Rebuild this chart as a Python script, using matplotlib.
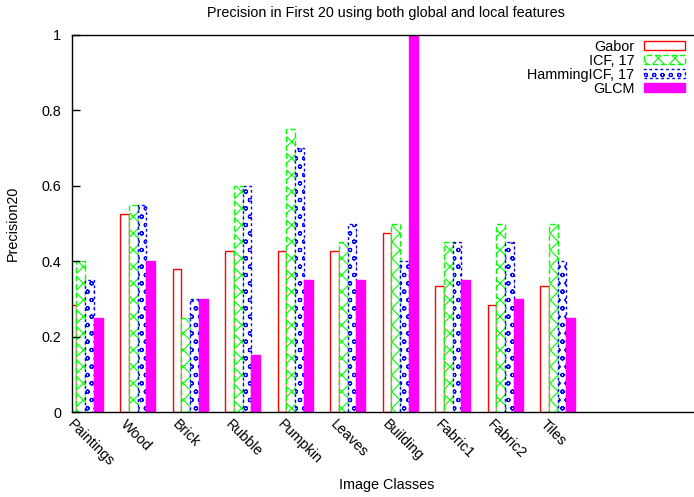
import numpy as np
import matplotlib
matplotlib.use("Agg")
import matplotlib.pyplot as plt
from matplotlib.ticker import FormatStrFormatter
from matplotlib.transforms import ScaledTranslation

plt.rcParams['font.family'] = ['Liberation Sans', 'DejaVu Sans']
plt.rcParams['hatch.linewidth'] = 0.8

categories = ["Paintings", "Wood", "Brick", "Rubble", "Pumpkin", "Leaves",
              "Building", "Fabric1", "Fabric2", "Tiles"]
series_names = ["Gabor", "ICF, 17", "HammingICF, 17", "GLCM"]
gabor = [0.285, 0.524, 0.38, 0.428, 0.428, 0.428, 0.476, 0.333, 0.285, 0.333]
icf17 = [0.40, 0.55, 0.25, 0.60, 0.75, 0.45, 0.50, 0.45, 0.50, 0.50]
hamming_icf17 = [0.35, 0.55, 0.30, 0.60, 0.70, 0.50, 0.40, 0.45, 0.45, 0.40]
glcm = [0.25, 0.40, 0.30, 0.15, 0.35, 0.35, 1.00, 0.35, 0.30, 0.25]
y_ticks = [0, 0.2, 0.4, 0.6, 0.8, 1.0]

FS = 10.4
W, H = 694, 497
fig = plt.figure(figsize=(W / 100, H / 100), dpi=100)
ax = fig.add_axes([72 / W, 1 - 412 / H, (693 - 72) / W, (412 - 35) / H])

x = np.arange(len(categories))
bw = 1 / 6
styles = [
    dict(facecolor="white", edgecolor="#ff0000", linewidth=1.0, hatch=None, linestyle="-"),
    dict(facecolor="white", edgecolor="#00ff00", linewidth=1.0, hatch="xx", linestyle=(0, (4, 2))),
    dict(facecolor="white", edgecolor="#0000ff", linewidth=1.0, hatch="oo", linestyle=(0, (2, 2))),
    dict(facecolor="#ff00ff", edgecolor="#ff00ff", linewidth=1.0, hatch=None, linestyle="-"),
]
handles = []
for k, (vals, name, st) in enumerate(zip([gabor, icf17, hamming_icf17, glcm], series_names, styles)):
    bars = ax.bar(x + (k - 1.5) * bw, vals, width=bw, label=name, **st)
    handles.append(bars)

ax.set_xlim(-0.25, 11.58)
ax.set_ylim(0, 1)
ax.set_yticks(y_ticks)
ax.yaxis.set_major_formatter(FormatStrFormatter('%g'))
ax.tick_params(axis='y', direction='in', length=6, width=1, labelsize=FS, pad=8)
ax.set_xticks(x)
ax.set_xticklabels(categories, rotation=-45, ha='left', va='top', rotation_mode='anchor', fontsize=FS)
ax.tick_params(axis='x', length=0, pad=4)
offset = ScaledTranslation(-10 / 100, 0, fig.dpi_scale_trans)
for lbl in ax.get_xticklabels():
    lbl.set_transform(lbl.get_transform() + offset)

ax.spines['right'].set_visible(False)
for s in ['left', 'bottom', 'top']:
    ax.spines[s].set_linewidth(1.0)

fig.text(386 / W, 1 - 13 / H, "Precision in First 20 using both global and local features",
         ha='center', va='center', fontsize=FS)
fig.text(387 / W, 1 - 485 / H, "Image Classes", ha='center', va='center', fontsize=FS)
fig.text(13 / W, 1 - 223 / H, "Precision20", ha='center', va='center', rotation=90, fontsize=FS)

leg = ax.legend(handles=handles, loc='upper right', markerfirst=False, frameon=False,
                bbox_to_anchor=(685 / W, 1 - 40 / H), bbox_transform=fig.transFigure,
                borderpad=0, labelspacing=0.0, handlelength=2.85, handleheight=0.6,
                handletextpad=0.65, fontsize=FS, borderaxespad=0)

fig.savefig("out.png", dpi=100)
